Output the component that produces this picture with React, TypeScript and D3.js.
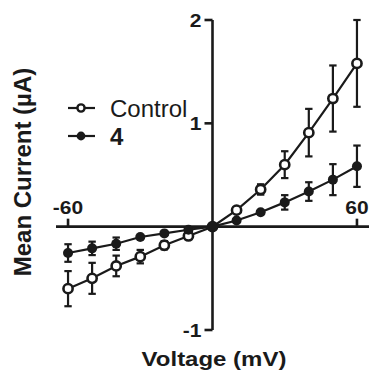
import * as d3 from "d3";

const voltages = [-60, -50, -40, -30, -20, -10, 0, 10, 20, 30, 40, 50, 60];
const controlMean = [-0.6, -0.5, -0.38, -0.29, -0.18, -0.09, 0, 0.16, 0.36, 0.6, 0.91, 1.24, 1.58];
const controlErr = [0.17, 0.15, 0.1, 0.065, 0.04, 0.02, 0, 0.03, 0.05, 0.13, 0.23, 0.32, 0.42];
const drugMean = [-0.255, -0.21, -0.165, -0.1, -0.065, -0.03, 0, 0.06, 0.14, 0.235, 0.34, 0.455, 0.585];
const drugErr = [0.085, 0.065, 0.06, 0.03, 0.02, 0.01, 0, 0.02, 0.03, 0.07, 0.09, 0.15, 0.2];
const xTicks = [-60, 60];
const yTicks = [-1, 1, 2];

const W = 369;
const H = 371;
const font = "Liberation Sans, Arial, sans-serif";

export default function App() {
  const x = d3.scaleLinear([-65, 65], [56, 369]);
  const y = d3.scaleLinear([-1, 2], [330, 20]);
  const line = d3.line<number>((d, i) => x(voltages[i]), (d) => y(d));

  const series = [
    { mean: controlMean, err: controlErr, open: true },
    { mean: drugMean, err: drugErr, open: false },
  ];

  return (
    <svg width={W} height={H} style={{ position: "absolute", left: 0, top: 0 }}>
      {/* axes */}
      <g stroke="#1a1a1a" strokeWidth={2.6} fill="none">
        <line x1={x(-65)} x2={x(65)} y1={y(0)} y2={y(0)} />
        <line x1={x(0)} x2={x(0)} y1={y(2)} y2={y(-1)} />
        {xTicks.map((t) => (
          <line key={t} x1={x(t)} x2={x(t)} y1={y(0)} y2={y(0) - 8} />
        ))}
        {yTicks.map((t) => (
          <line key={t} x1={x(0)} x2={x(0) - 8} y1={y(t)} y2={y(t)} />
        ))}
      </g>
      <g fontFamily={font} fontWeight="bold" fill="#1a1a1a">
        {xTicks.map((t) => (
          <text key={t} transform={`translate(${x(t)},${y(0) - 13}) scale(1,0.87)`} textAnchor="middle" fontSize={21}>{t}</text>
        ))}
        {yTicks.map((t) => (
          <text key={t} transform={`translate(${x(0) - 11},${y(t) + 7}) scale(1,0.87)`} textAnchor="end" fontSize={21}>{t}</text>
        ))}
        <text transform="translate(214,366) scale(1,0.82)" textAnchor="middle" fontSize={24}>Voltage (mV)</text>
        <text transform={`translate(31,${172}) rotate(-90)`} textAnchor="middle" fontSize={24}>Mean Current (µA)</text>
      </g>

      {/* data */}
      {series.map((s, k) => (
        <g key={k} stroke="#1a1a1a">
          <path d={line(s.mean) ?? ""} fill="none" strokeWidth={2.2} />
          {s.mean.map((m, i) =>
            s.err[i] > 0.03 ? (
              <g key={i} strokeWidth={2.2}>
                <line x1={x(voltages[i])} x2={x(voltages[i])} y1={y(m - s.err[i])} y2={y(m + s.err[i])} />
                <line x1={x(voltages[i]) - 3.7} x2={x(voltages[i]) + 3.7} y1={y(m + s.err[i])} y2={y(m + s.err[i])} />
                <line x1={x(voltages[i]) - 3.7} x2={x(voltages[i]) + 3.7} y1={y(m - s.err[i])} y2={y(m - s.err[i])} />
              </g>
            ) : null
          )}
          {s.mean.map((m, i) => (
            <circle
              key={"c" + i}
              cx={x(voltages[i])}
              cy={y(m)}
              r={s.open ? 4.6 : 5}
              fill={s.open ? "white" : "#1a1a1a"}
              strokeWidth={s.open ? 2.6 : 0}
            />
          ))}
        </g>
      ))}

      {/* legend */}
      <g stroke="#1a1a1a" strokeWidth={2.2}>
        <line x1={68} x2={95} y1={108} y2={108} />
        <circle cx={81} cy={108} r={3.6} fill="white" strokeWidth={2.4} />
        <line x1={68} x2={95} y1={136} y2={136} />
        <circle cx={81} cy={136} r={4.4} fill="#1a1a1a" stroke="none" />
      </g>
      <g fontFamily={font} fontSize={24} fill="#1a1a1a">
        <text x={110} y={117}>Control</text>
        <text x={110} y={145} fontWeight="bold">4</text>
      </g>
    </svg>
  );
}
